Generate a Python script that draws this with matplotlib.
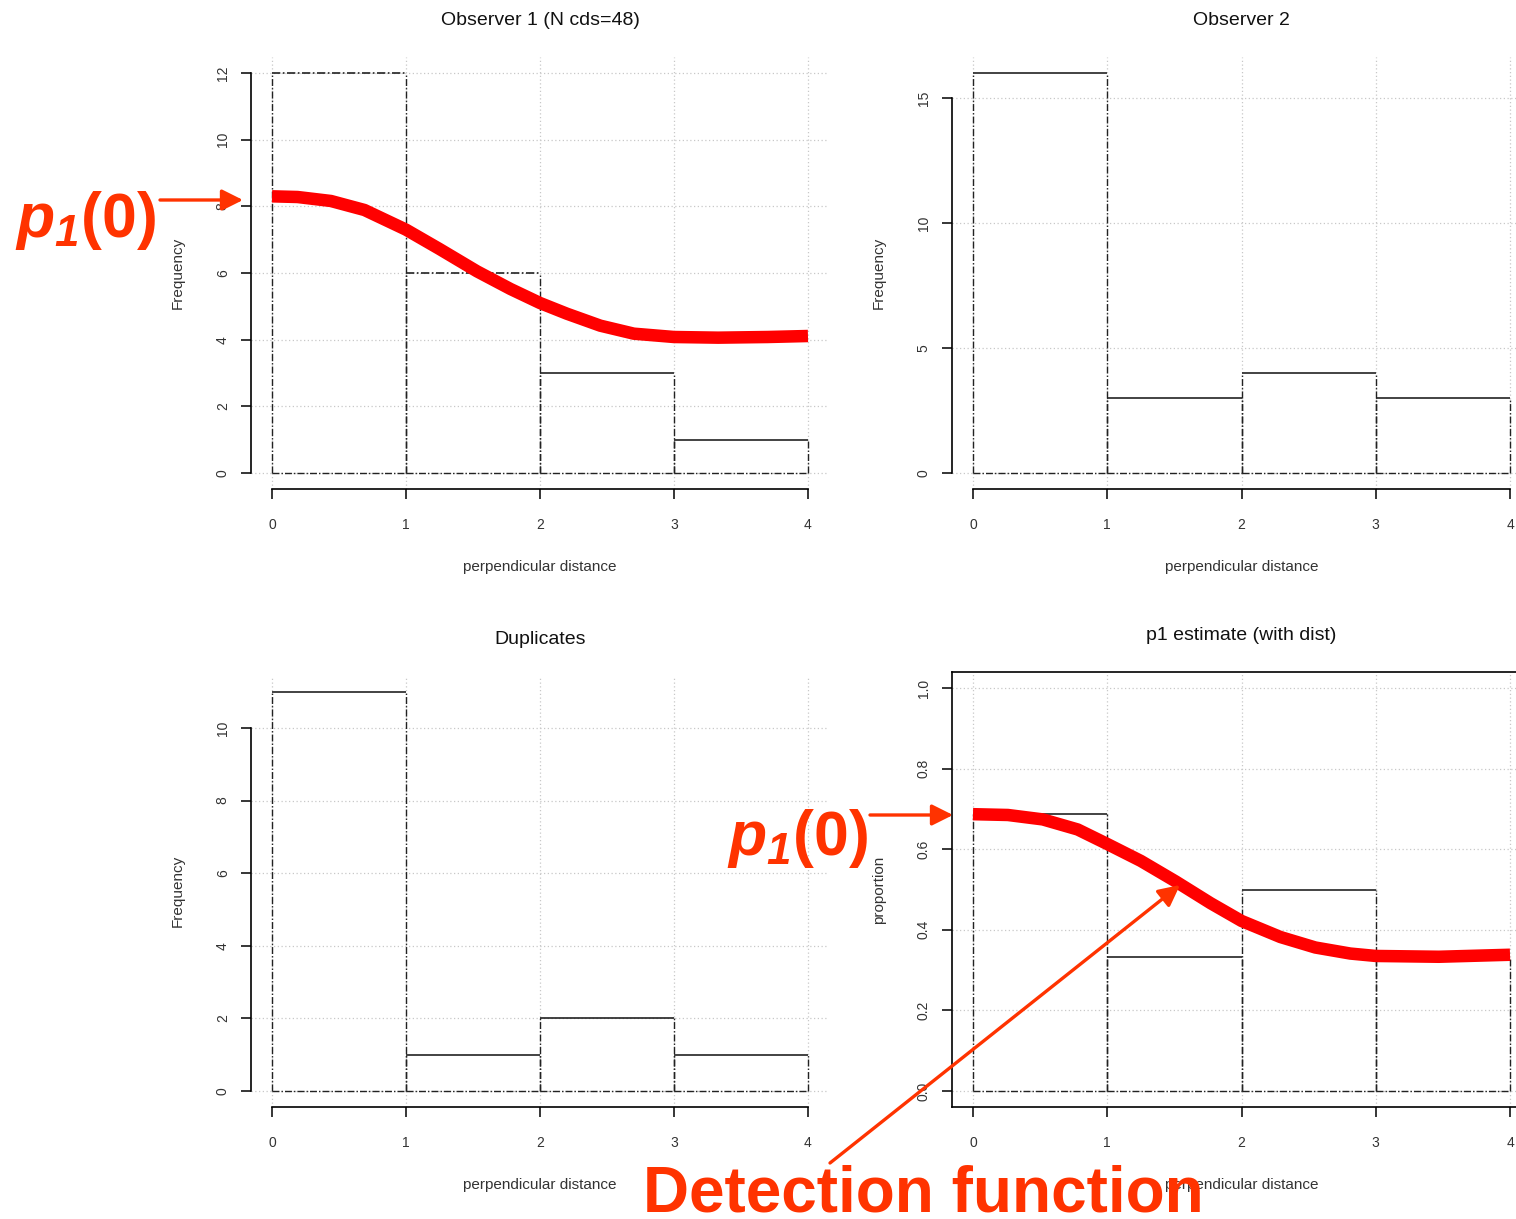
import matplotlib
matplotlib.use("Agg")
import matplotlib.pyplot as plt
from matplotlib.patches import FancyArrowPatch

# histogram data (bins of perpendicular distance 0-4)
bin_edges = [0, 1, 2, 3, 4]
obs1_counts = [12, 6, 3, 1]
obs2_counts = [16, 3, 4, 3]
dup_counts = [11, 1, 2, 1]
p1_props = [0.6875, 0.333, 0.5, 0.333]

# fitted detection function
obs1_curve_x = [0, 0.19, 0.44, 0.69, 1.0, 1.25, 1.53, 1.78, 2.0, 2.2, 2.45, 2.7, 3.0, 3.33, 3.7, 4.0]
obs1_curve_y = [8.30, 8.28, 8.16, 7.89, 7.30, 6.72, 6.05, 5.52, 5.10, 4.78, 4.42, 4.18, 4.08, 4.06, 4.08, 4.11]
p1_curve_x = [0, 0.26, 0.52, 0.78, 1.0, 1.25, 1.51, 1.77, 2.0, 2.29, 2.55, 2.81, 3.0, 3.47, 4.0]
p1_curve_y = [0.687, 0.685, 0.674, 0.649, 0.613, 0.571, 0.520, 0.466, 0.422, 0.382, 0.356, 0.341, 0.335, 0.333, 0.338]

titles = ["Observer 1 (N cds=48)", "Observer 2", "Duplicates", "p1 estimate (with dist)"]
ylabels = ["Frequency", "Frequency", "Frequency", "proportion"]
xlabel = "perpendicular distance"

plt.rcParams['font.family'] = ['Liberation Sans', 'DejaVu Sans']
plt.rcParams['mathtext.fontset'] = 'custom'
plt.rcParams['mathtext.it'] = 'Liberation Sans:italic:bold'
plt.rcParams['mathtext.rm'] = 'Liberation Sans:italic:bold'
plt.rcParams['mathtext.bf'] = 'Liberation Sans:bold'

W, H = 1516, 1219
fig = plt.figure(figsize=(W / 100, H / 100), dpi=100)
fig.patch.set_facecolor('white')

def px_rect(left, right, top, bottom):
    return [left / W, 1 - bottom / H, (right - left) / W, (bottom - top) / H]

def fpos(x, y):
    return (x / W, 1 - y / H)

HIST_LS = (0, (5, 1.5, 1, 1.5))
GRID_KW = dict(color='#c8c8c8', linestyle=(0, (1, 2)), linewidth=0.9)
ANNO = '#FF3300'

def r_panel(rect, counts, yticks, ylim, title, ylab, boxed=False, dashed_tops=(), fmt=None):
    ax = fig.add_axes(rect)
    ax.set_xlim(-0.16, 4.16)
    ax.set_ylim(*ylim)
    ax.set_xticks(bin_edges)
    ax.set_yticks(yticks)
    if fmt:
        ax.set_yticklabels([fmt.format(v) for v in yticks])
    ax.grid(True, **GRID_KW)
    ax.set_axisbelow(True)
    for s in ax.spines.values():
        s.set_linewidth(1.2)
    if not boxed:
        ax.spines['top'].set_visible(False)
        ax.spines['right'].set_visible(False)
        ax.spines['left'].set_bounds(yticks[0], yticks[-1])
        ax.spines['bottom'].set_bounds(0, 4)
    ax.tick_params(axis='both', direction='out', length=7, width=1.1,
                   labelsize=10, labelcolor='#333333')
    ax.tick_params(axis='x', pad=14)
    ax.tick_params(axis='y', pad=8, labelrotation=90)
    for lab in ax.get_yticklabels():
        lab.set_va('center')

    # histogram outline in R style
    for i, c in enumerate(counts):
        x0, x1 = bin_edges[i], bin_edges[i + 1]
        ax.vlines([x0, x1], 0, c, colors='#222222', linestyles=[HIST_LS], linewidth=1.0)
        ax.hlines(0, x0, x1, colors='#222222', linestyles=[HIST_LS], linewidth=1.0)
        top_ls = HIST_LS if i in dashed_tops else '-'
        ax.hlines(c, x0, x1, colors='#222222', linestyles=[top_ls], linewidth=1.2)

    ax.set_title(title, fontsize=14, color='#111111', pad=23)
    ax.set_xlabel(xlabel, fontsize=11, color='#333333', labelpad=20)
    ax.set_ylabel(ylab, fontsize=11, color='#333333', labelpad=22)
    return ax

ax1 = r_panel(px_rect(250.6, 829.4, 57, 489), obs1_counts, [0, 2, 4, 6, 8, 10, 12],
              (-0.48, 12.48), titles[0], ylabels[0], dashed_tops=(0, 1))
ax2 = r_panel(px_rect(951.5, 1531.5, 57, 489), obs2_counts, [0, 5, 10, 15],
              (-0.64, 16.64), titles[1], ylabels[1])
ax3 = r_panel(px_rect(250.6, 829.4, 675.7, 1107), dup_counts, [0, 2, 4, 6, 8, 10],
              (-0.44, 11.44), titles[2], ylabels[2])
ax4 = r_panel(px_rect(951.5, 1531.5, 672, 1107), p1_props, [0, 0.2, 0.4, 0.6, 0.8, 1.0],
              (-0.04, 1.04), titles[3], ylabels[3], boxed=True, fmt='{:.1f}')

ax1.plot(obs1_curve_x, obs1_curve_y, color='red', linewidth=9,
         solid_capstyle='butt', solid_joinstyle='round', zorder=5)
ax4.plot(p1_curve_x, p1_curve_y, color='red', linewidth=9,
         solid_capstyle='butt', solid_joinstyle='round', zorder=5)

# annotations
def arrow(p0, p1):
    a = FancyArrowPatch(fpos(*p0), fpos(*p1), transform=fig.transFigure,
                        arrowstyle='-|>,head_length=0.8,head_width=0.4',
                        mutation_scale=16, color=ANNO, linewidth=2.4,
                        shrinkA=0, shrinkB=0, zorder=10)
    fig.add_artist(a)

p_label = r'$p_1\mathbf{(0)}$'
fig.text(*fpos(15, 237), p_label, fontsize=45, color=ANNO, ha='left', va='baseline', zorder=11)
arrow((160, 200), (243, 200))
fig.text(*fpos(727, 855), p_label, fontsize=45, color=ANNO, ha='left', va='baseline', zorder=11)
arrow((870, 815), (953, 815))

fig.text(*fpos(643, 1211), "Detection function", fontsize=46, fontweight='bold',
         color=ANNO, ha='left', va='baseline', zorder=11)
arrow((830, 1163), (1180, 885))

fig.savefig("out.png", dpi=100)
